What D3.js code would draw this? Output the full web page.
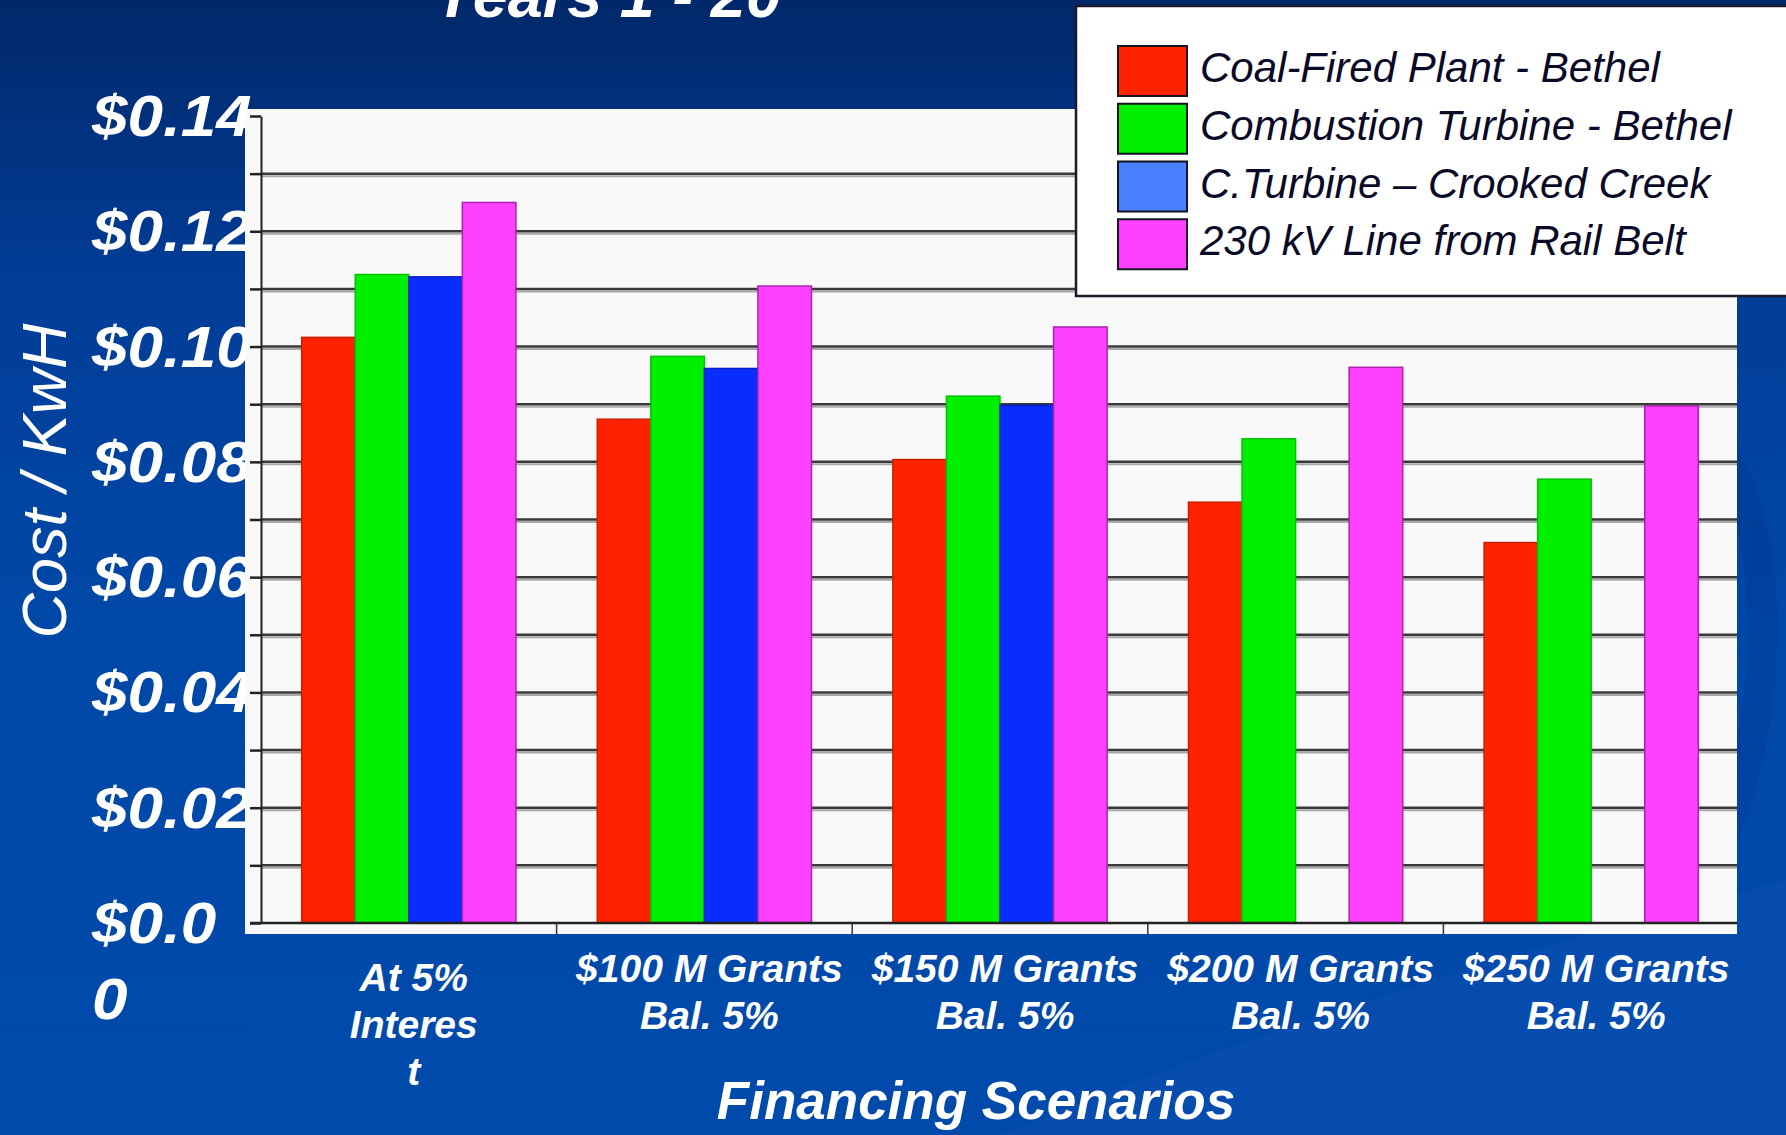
<!DOCTYPE html>
<html>
<head>
<meta charset="utf-8">
<script src="https://d3js.org/d3.v7.min.js"></script>
<style>
  body { margin: 0; overflow: hidden; background: #003a8c; }
  svg { display: block; }
  text { font-family: Arial, "Liberation Sans", sans-serif; }
</style>
</head>
<body>
<svg width="1786" height="1135"></svg>
<script>
// Chart data
var categories = ["At 5% Interest", "$100 M Grants", "$150 M Grants", "$200 M Grants", "$250 M Grants"];
var categoryLines = [
    ["At 5%", "Interes", "t"],
    ["$100 M Grants", "Bal. 5%"],
    ["$150 M Grants", "Bal. 5%"],
    ["$200 M Grants", "Bal. 5%"],
    ["$250 M Grants", "Bal. 5%"]];
var seriesNames = ["Coal-Fired Plant - Bethel", "Combustion Turbine - Bethel", "C.Turbine \u2013 Crooked Creek", "230 kV Line from Rail Belt"];
var coalBethel = [0.1016, 0.0874, 0.0804, 0.0730, 0.0660];
var turbineBethel = [0.1125, 0.0983, 0.0914, 0.0840, 0.0770];
var turbineCrooked = [0.1121, 0.0962, 0.0898, null, null];
var railBelt = [0.1250, 0.1105, 0.1034, 0.0964, 0.0897];
var tickValues = [0, 0.02, 0.04, 0.06, 0.08, 0.10, 0.12, 0.14];
var tickLabels = [["$0.0", "0"], ["$0.02"], ["$0.04"], ["$0.06"], ["$0.08"], ["$0.10"], ["$0.12"], ["$0.14"]];

var seriesValues = [coalBethel, turbineBethel, turbineCrooked, railBelt];

// Colors
var barColor = d3.scaleOrdinal().domain(seriesNames).range(["#ff2200", "#00f000", "#0a2dff", "#ff40ff"]);
var barEdge = d3.scaleOrdinal().domain(seriesNames).range(["#cc1c00", "#00c400", "#0820c8", "#a824a8"]);
var legendColor = d3.scaleOrdinal().domain(seriesNames).range(["#ff2200", "#00f000", "#4a7fff", "#ff40ff"]);

var svg = d3.select("svg"),
    width = +svg.attr("width"),
    height = +svg.attr("height");

// Panel box
var panel = {left: 245, top: 109, right: 1737, bottom: 934};

// Scales
var y = d3.scaleLinear().domain([0, 0.14]).range([923, 116]);
var x = d3.scaleBand().domain(categories).range([261, 1739]);
var xInner = d3.scaleBand().domain(seriesNames).range([0, x.bandwidth()]).paddingOuter(0.76);

// Background gradient
var defs = svg.append("defs");
var grad = defs.append("linearGradient")
    .attr("id", "bg").attr("x1", 0).attr("y1", 0).attr("x2", 0).attr("y2", 1);
grad.append("stop").attr("offset", "0%").attr("stop-color", "#01286a");
grad.append("stop").attr("offset", "25%").attr("stop-color", "#023d97");
grad.append("stop").attr("offset", "55%").attr("stop-color", "#0048a8");
grad.append("stop").attr("offset", "100%").attr("stop-color", "#004aab");

svg.append("rect")
    .attr("width", width).attr("height", height)
    .attr("fill", "url(#bg)");

// faint swooshes at the lower right
svg.append("path")
    .attr("d", "M1000,1135 C1300,1010 1600,930 1786,880 L1786,1135 Z")
    .attr("fill", "#2060c0").attr("opacity", 0.18);
svg.append("path")
    .attr("d", "M1700,420 C1790,520 1780,760 1690,900")
    .attr("fill", "none").attr("stroke", "#00358a").attr("stroke-width", 30).attr("opacity", 0.3);

// Title (cut off at the top)
svg.append("text")
    .attr("x", 607).attr("y", 17)
    .attr("text-anchor", "middle")
    .attr("font-size", 63).attr("font-weight", "bold").attr("font-style", "italic")
    .attr("fill", "#fff")
    .text("Years 1 - 20");

// Y tick labels, sitting under the white panel (wide lettering)
var yLabels = svg.append("g")
    .attr("transform", "translate(92,0) scale(1.1,1)")
  .selectAll("text")
    .data(tickValues)
  .enter().append("text")
    .attr("x", 0)
    .attr("y", function(d) { return y(d) + 20; })
    .attr("font-size", 58).attr("font-weight", "bold").attr("font-style", "italic")
    .attr("fill", "#fff");

yLabels.selectAll("tspan")
    .data(function(d, i) { return tickLabels[i]; })
  .enter().append("tspan")
    .attr("x", 0)
    .attr("dy", function(d, i) { return i == 0 ? 0 : 76; })
    .text(function(d) { return d; });

// White plot panel
svg.append("rect")
    .attr("x", panel.left).attr("y", panel.top)
    .attr("width", panel.right - panel.left).attr("height", panel.bottom - panel.top)
    .attr("fill", "#f9f9f9");

// Gridlines with a soft shadow
var gridValues = y.ticks(14).filter(function(d) { return d > 0.001 && d < 0.139; });
var grid = svg.append("g");
grid.selectAll(".shadow")
    .data(gridValues)
  .enter().append("line")
    .attr("class", "shadow")
    .attr("x1", 262).attr("x2", panel.right)
    .attr("y1", function(d) { return y(d) + 2.5; })
    .attr("y2", function(d) { return y(d) + 2.5; })
    .attr("stroke", "#a8a8a8").attr("stroke-width", 2);
grid.selectAll(".major")
    .data(gridValues)
  .enter().append("line")
    .attr("class", "major")
    .attr("x1", 262).attr("x2", panel.right)
    .attr("y1", function(d) { return y(d); })
    .attr("y2", function(d) { return y(d); })
    .attr("stroke", "#3a3a3a").attr("stroke-width", 2.5);

// Bars
var groups = svg.append("g").selectAll("g")
    .data(categories)
  .enter().append("g")
    .attr("transform", function(d) { return "translate(" + x(d) + ",0)"; });

groups.selectAll("rect")
    .data(function(d, ci) {
        return seriesNames.map(function(s, si) { return {series: s, value: seriesValues[si][ci]}; })
            .filter(function(e) { return e.value != null; });
    })
  .enter().append("rect")
    .attr("x", function(d) { return xInner(d.series); })
    .attr("y", function(d) { return y(d.value); })
    .attr("width", xInner.bandwidth())
    .attr("height", function(d) { return y(0) - y(d.value); })
    .attr("fill", function(d) { return barColor(d.series); })
    .attr("stroke", function(d) { return barEdge(d.series); })
    .attr("stroke-width", 1.5);

// Y axis
var yAxis = svg.append("g")
    .attr("transform", "translate(261,0)")
    .call(d3.axisLeft(y).tickValues(y.ticks(14)).tickSize(11).tickSizeOuter(0).tickFormat(""));
yAxis.select(".domain").attr("stroke", "#222").attr("stroke-width", 2);
yAxis.selectAll(".tick line").attr("stroke", "#222").attr("stroke-width", 2.5);

// X axis: baseline and separator ticks between the categories
svg.append("line")
    .attr("x1", 250).attr("x2", panel.right)
    .attr("y1", y(0)).attr("y2", y(0))
    .attr("stroke", "#222").attr("stroke-width", 2.5);
svg.append("g").selectAll("line")
    .data(categories.slice(1))
  .enter().append("line")
    .attr("x1", function(d) { return x(d); })
    .attr("x2", function(d) { return x(d); })
    .attr("y1", y(0)).attr("y2", panel.bottom)
    .attr("stroke", "#333").attr("stroke-width", 1.5);

// X category labels
var xLabels = svg.append("g").selectAll("text")
    .data(categories)
  .enter().append("text")
    .attr("x", function(d) { return x(d) + x.bandwidth() / 2 + 5; })
    .attr("y", function(d, i) { return categoryLines[i].length > 2 ? 991 : 982; })
    .attr("text-anchor", "middle")
    .attr("font-size", 39).attr("font-weight", "bold").attr("font-style", "italic")
    .attr("fill", "#fff");

xLabels.selectAll("tspan")
    .data(function(d, i) { return categoryLines[i]; })
  .enter().append("tspan")
    .attr("x", function() { return d3.select(this.parentNode).attr("x"); })
    .attr("dy", function(d, i) { return i == 0 ? 0 : 47; })
    .text(function(d) { return d; });

// Axis titles
svg.append("text")
    .attr("x", 976).attr("y", 1119)
    .attr("text-anchor", "middle")
    .attr("font-size", 53).attr("font-weight", "bold").attr("font-style", "italic")
    .attr("fill", "#fff")
    .text("Financing Scenarios");

svg.append("text")
    .attr("transform", "translate(66,481) rotate(-90)")
    .attr("text-anchor", "middle")
    .attr("font-size", 63).attr("font-style", "italic")
    .attr("fill", "#fff")
    .text("Cost / KwH");

// Legend
var legend = svg.append("g");
legend.append("rect")
    .attr("x", 1076).attr("y", 6)
    .attr("width", 740).attr("height", 290)
    .attr("fill", "#fff")
    .attr("stroke", "#1a1a2a").attr("stroke-width", 2.5);

var legendRow = d3.scaleBand().domain(seriesNames).range([43, 274]);

var items = legend.selectAll(".item")
    .data(seriesNames)
  .enter().append("g")
    .attr("class", "item")
    .attr("transform", function(d) { return "translate(1118," + legendRow(d) + ")"; });

items.append("rect")
    .attr("x", 0).attr("y", 3)
    .attr("width", 69).attr("height", 50)
    .attr("fill", function(d) { return legendColor(d); })
    .attr("stroke", "#151520").attr("stroke-width", 2);

items.append("text")
    .attr("x", 82).attr("y", 39)
    .attr("font-size", 42).attr("font-style", "italic")
    .attr("fill", "#0a0a28")
    .text(function(d) { return d; });
</script>
</body>
</html>
